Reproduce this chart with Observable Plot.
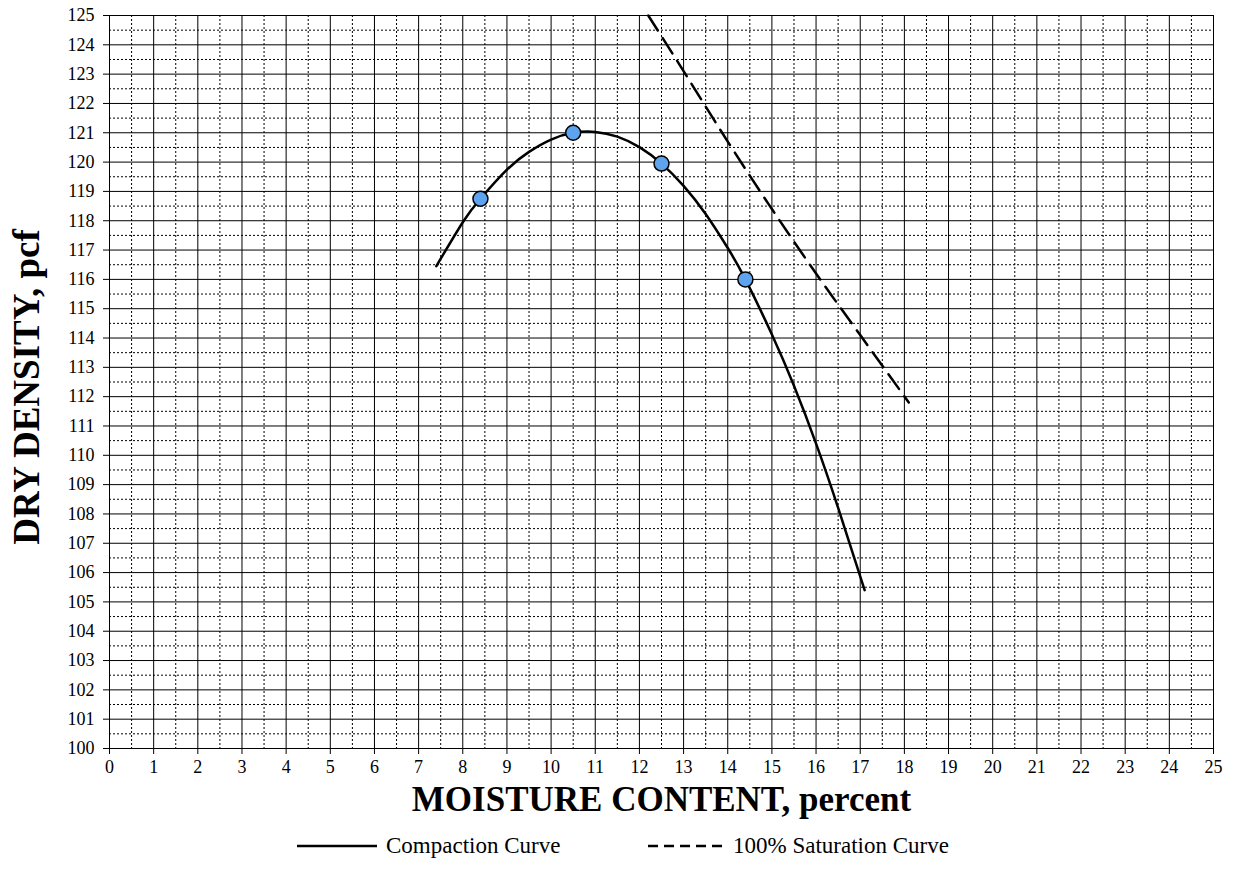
<!DOCTYPE html>
<html>
<head>
<meta charset="utf-8">
<script src="https://cdn.jsdelivr.net/npm/d3@7"></script>
<script src="https://cdn.jsdelivr.net/npm/@observablehq/plot@0.6"></script>
<style>
  body { margin: 0; background: #fff; font-family: "Liberation Serif", "Times New Roman", serif; }
  #wrap { position: relative; width: 1233px; height: 886px; }
  #legend { position: absolute; left: 0; top: 831px; width: 1233px; height: 30px; }
  .item { position: absolute; top: 0; height: 30px; display: flex; align-items: center; font-size: 23px; color: #000; }
</style>
</head>
<body>
<div id="wrap">
  <div id="chart"></div>
  <div id="legend"></div>
</div>
<script>
// Measured test points (moisture %, dry density pcf)
const testMoisture = [8.4, 10.5, 12.5, 14.4];
const testDensity  = [118.75, 121.0, 119.95, 116.0];

// Compaction curve
const compMoisture = [7.4, 8.0, 8.4, 9.0, 9.5, 10.0, 10.5, 11.0, 11.5, 12.0, 12.5, 13.0, 13.5, 14.0, 14.4, 15.0, 15.5, 16.0, 16.5, 17.1];
const compDensity  = [116.45, 117.95, 118.75, 119.74, 120.35, 120.77, 121.0, 121.03, 120.87, 120.51, 119.95, 119.19, 118.23, 117.07, 116.0, 114.12, 112.37, 110.4, 108.21, 105.4];

// 100% saturation curve
const satMoisture = [12.2, 13.0, 14.0, 15.0, 16.0, 17.0, 18.1];
const satDensity  = [125.0, 123.1, 120.7, 118.4, 116.2, 114.1, 111.8];

// Axis ticks
const xTicks = [0,1,2,3,4,5,6,7,8,9,10,11,12,13,14,15,16,17,18,19,20,21,22,23,24,25];
const yTicks = [100,101,102,103,104,105,106,107,108,109,110,111,112,113,114,115,116,117,118,119,120,121,122,123,124,125];
const xMinor = [0.5,1.5,2.5,3.5,4.5,5.5,6.5,7.5,8.5,9.5,10.5,11.5,12.5,13.5,14.5,15.5,16.5,17.5,18.5,19.5,20.5,21.5,22.5,23.5,24.5];
const yMinor = [100.5,101.5,102.5,103.5,104.5,105.5,106.5,107.5,108.5,109.5,110.5,111.5,112.5,113.5,114.5,115.5,116.5,117.5,118.5,119.5,120.5,121.5,122.5,123.5,124.5];

const xLabel = "MOISTURE CONTENT, percent";
const yLabel = "DRY DENSITY, pcf";
const legendLabels = ["Compaction Curve", "100% Saturation Curve"];

const points = testMoisture.map((m, i) => ({m, d: testDensity[i]}));
const comp = compMoisture.map((m, i) => ({m, d: compDensity[i]}));
const sat = satMoisture.map((m, i) => ({m, d: satDensity[i]}));

const font = "'Liberation Serif', 'Times New Roman', serif";

const chart = Plot.plot({
  width: 1233,
  height: 831,
  marginLeft: 109,
  marginRight: 20,
  marginTop: 15,
  marginBottom: 83,
  style: { fontFamily: font, fontSize: "18px", color: "#000", background: "#fff" },
  x: { domain: [0, 25], ticks: xTicks },
  y: { domain: [100, 125], ticks: yTicks },
  marks: [
    Plot.ruleX(xMinor, { stroke: "#000", strokeWidth: 1, strokeDasharray: "2,2" }),
    Plot.ruleY(yMinor, { stroke: "#000", strokeWidth: 1, strokeDasharray: "2,2" }),
    Plot.ruleX(xTicks, { stroke: "#000", strokeWidth: 1 }),
    Plot.ruleY(yTicks, { stroke: "#000", strokeWidth: 1 }),
    Plot.axisX({ ticks: xTicks, tickSize: 6, tickPadding: 6, label: null, fontSize: 18, fontFamily: font, tickFormat: d => String(d) }),
    Plot.axisY({ ticks: yTicks, tickSize: 6, tickPadding: 9, label: null, fontSize: 18, fontFamily: font, tickFormat: d => String(d) }),
    Plot.line(sat, { x: "m", y: "d", stroke: "#000", strokeWidth: 2.5, strokeDasharray: "18,9", curve: "natural" }),
    Plot.line(comp, { x: "m", y: "d", stroke: "#000", strokeWidth: 2.5, curve: "natural" }),
    Plot.dot(points, { x: "m", y: "d", r: 7.5, fill: "#5EA3EE", stroke: "#000", strokeWidth: 1.5 }),
    Plot.text([xLabel], { frameAnchor: "bottom", textAnchor: "middle", lineAnchor: "bottom", dy: 62, text: d => d, fontSize: 35, fontWeight: "bold", fontFamily: font, fill: "#000" }),
    Plot.text([yLabel], { frameAnchor: "left", textAnchor: "middle", dx: -82, dy: 5, rotate: -90, text: d => d, fontSize: 37, fontWeight: "bold", fontFamily: font, fill: "#000" })
  ]
});
document.getElementById("chart").appendChild(chart);

const legend = document.getElementById("legend");
const items = [
  { left: 297, w: 80, gap: 9, dash: null, label: legendLabels[0] },
  { left: 648, w: 74, gap: 11, dash: "10,6", label: legendLabels[1] }
];
items.forEach(it => {
  const div = document.createElement("div");
  div.className = "item";
  div.style.left = it.left + "px";
  div.innerHTML = `<svg width="${it.w}" height="10" style="margin-right:${it.gap}px"><line x1="0" y1="5" x2="${it.w}" y2="5" stroke="#000" stroke-width="2.5" ${it.dash ? `stroke-dasharray="${it.dash}"` : ""}/></svg><span>${it.label}</span>`;
  legend.appendChild(div);
});
</script>
</body>
</html>
